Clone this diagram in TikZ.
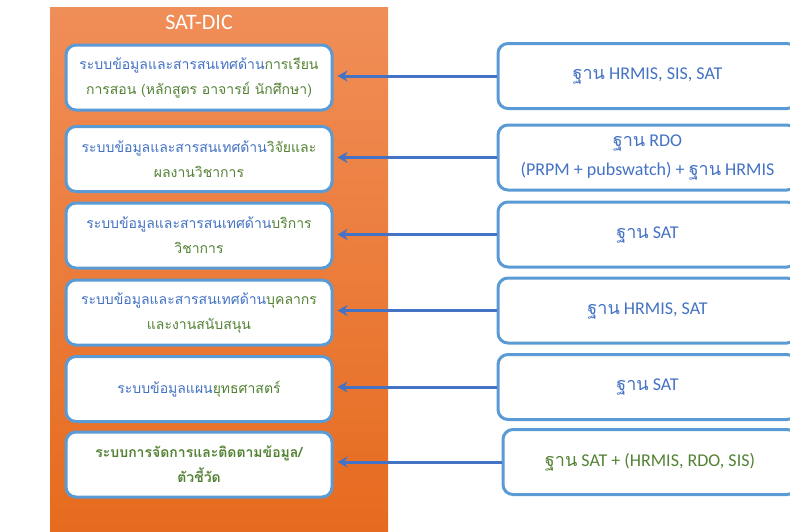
\documentclass[tikz,border=0pt]{standalone}
\usepackage{fontspec}
\setmainfont{Carlito}
\newfontfamily\thai[Script=Thai]{Loma}
\usetikzlibrary{arrows.meta}
\definecolor{obl}{HTML}{4472C4}
\definecolor{ogr}{HTML}{548235}
\definecolor{bord}{HTML}{5B9BD5}
\definecolor{ortop}{HTML}{F08E58}
\definecolor{orbot}{HTML}{E66B1E}
\newcommand{\bl}[1]{\textcolor{obl}{#1}}
\newcommand{\gr}[1]{\textcolor{ogr}{#1}}
\tikzset{
  lbox/.style={draw=bord, line width=3pt, fill=white, rounded corners=10pt,
    minimum width=266pt, minimum height=65pt, align=center, inner sep=2pt,
    font=\fontsize{14pt}{25pt}\selectfont\thai},
  rbox/.style={draw=bord, line width=3pt, fill=white, rounded corners=10pt,
    minimum height=65pt, align=center, inner sep=2pt,
    font=\fontsize{18pt}{29pt}\selectfont, text=obl},
  conn/.style={draw=obl, line width=3pt, -{Stealth[length=10pt,width=11pt]}, shorten >=4pt}
}
\begin{document}
\begin{tikzpicture}[x=1pt,y=-1pt]
\useasboundingbox (0,0) rectangle (790,531);
\fill[top color=ortop, bottom color=orbot] (50,7) rectangle (388,531);
\node[text=white, font=\fontsize{22pt}{24pt}\selectfont] (title) at (199,22) {SAT-DIC};
% left boxes
\node[lbox] (L1) at (199,77.5) {\bl{ระบบข้อมูลและสารสนเทศด้าน}\gr{การเรียน}\\\gr{การสอน (หลักสูตร อาจารย์ นักศึกษา)}};
\node[lbox] (L2) at (199,159) {\bl{ระบบข้อมูลและสารสนเทศด้าน}\gr{วิจัยและ}\\\gr{ผลงานวิชาการ}};
\node[lbox] (L3) at (199,235.5) {\bl{ระบบข้อมูลและสารสนเทศด้าน}\gr{บริการ}\\\gr{วิชาการ}};
\node[lbox] (L4) at (199,312.5) {\bl{ระบบข้อมูลและสารสนเทศด้าน}\gr{บุคลากร}\\\gr{และงานสนับสนุน}};
\node[lbox] (L5) at (199,389) {\bl{ระบบข้อมูลแผน}\gr{ยุทธศาสตร์}};
\node[lbox, font=\fontsize{14pt}{25pt}\selectfont\thai\bfseries, text=ogr] (L6) at (199,464.5) {ระบบการจัดการและติดตามข้อมูล/\\ตัวชี้วัด};
% right boxes
\node[rbox, minimum width=299pt] (R1) at (647.5,76) {{\thai ฐาน} HRMIS, SIS, SAT};
\node[rbox, minimum width=299pt] (R2) at (647.5,157.5) {{\thai ฐาน} RDO\\(PRPM + pubswatch) + {\thai ฐาน} HRMIS};
\node[rbox, minimum width=299pt] (R3) at (647.5,234.5) {{\thai ฐาน} SAT};
\node[rbox, minimum width=299pt] (R4) at (647.5,310.5) {{\thai ฐาน} HRMIS, SAT};
\node[rbox, minimum width=299pt] (R5) at (647.5,387) {{\thai ฐาน} SAT};
\node[rbox, minimum width=294pt, text=ogr] (R6) at (650,462) {{\thai ฐาน} SAT + (HRMIS, RDO, SIS)};
% connectors
\foreach \i in {1,...,6}{
  \draw[conn] (R\i.west) -- (L\i.east |- R\i.west);
}
\end{tikzpicture}
\end{document}
